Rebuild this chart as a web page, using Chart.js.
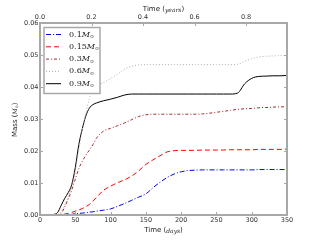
<!DOCTYPE html>
<html>
<head>
<meta charset="utf-8">
<script src="https://cdn.jsdelivr.net/npm/chart.js@4.4.1/dist/chart.umd.min.js"></script>
<style>
  html, body { margin: 0; padding: 0; background: #fff; }
  #wrap { width: 320px; height: 240px; }
</style>
</head>
<body>
<div id="wrap"><canvas id="grafico" width="320" height="240"></canvas></div>
<script>
// time in days
var days = [0, 10, 20, 25, 30, 35, 40, 45, 50, 55, 60, 65, 70, 75, 80, 90, 100, 110, 120, 130,
            140, 150, 160, 170, 180, 190, 200, 210, 220, 230, 240, 250, 260, 270, 280, 290,
            300, 310, 320, 330, 340, 350];

var masses = ['0.1', '0.15', '0.3', '0.6', '0.9'];

var m01 = [0, 0, 0, 0, 0, 0, 0.0001, 0.0002, 0.0004, 0.0005, 0.0006, 0.0007, 0.0009, 0.001, 0.0012, 0.0015,
           0.0019, 0.0027, 0.0036, 0.0046, 0.0056, 0.0066, 0.0085, 0.0102, 0.0117, 0.0128, 0.0135,
           0.0139, 0.014, 0.0141, 0.0141, 0.0141, 0.0141, 0.0141, 0.0141, 0.0141, 0.0141, 0.0142,
           0.0142, 0.0142, 0.0142, 0.0142];
var m015 = [0, 0, 0, 0, 0.0001, 0.0003, 0.0005, 0.0008, 0.0012, 0.0016, 0.002, 0.0026, 0.0033, 0.0043, 0.0055,
            0.0077, 0.009, 0.0101, 0.011, 0.0122, 0.0138, 0.0158, 0.0172, 0.0185, 0.0197, 0.0201, 0.0202,
            0.0202, 0.0202, 0.0203, 0.0203, 0.0203, 0.0203, 0.0204, 0.0204, 0.0204, 0.0204, 0.0205,
            0.0205, 0.0205, 0.0205, 0.0206];
var m03 = [0, 0, 0, 0.0001, 0.0005, 0.0025, 0.005, 0.0078, 0.0112, 0.0145, 0.0168, 0.0187, 0.0203, 0.022, 0.024,
           0.0262, 0.0271, 0.0279, 0.0288, 0.0298, 0.0308, 0.0313, 0.0315, 0.0315, 0.0315, 0.0315, 0.0315,
           0.0315, 0.0315, 0.0316, 0.0318, 0.0321, 0.0324, 0.0327, 0.033, 0.0332, 0.0333, 0.0335,
           0.0336, 0.0337, 0.0338, 0.0338];
var m06 = [0, 0, 0, 0.0002, 0.001, 0.003, 0.0058, 0.0088, 0.0135, 0.0205, 0.0268, 0.0318, 0.0365, 0.0392, 0.0403,
           0.0414, 0.0426, 0.044, 0.0456, 0.0465, 0.0469, 0.047, 0.047, 0.047, 0.047, 0.047, 0.047,
           0.047, 0.047, 0.047, 0.047, 0.047, 0.047, 0.047, 0.0471, 0.048, 0.0488, 0.0494,
           0.0496, 0.0497, 0.0498, 0.0498];
var m09 = [0, 0, 0.0002, 0.0008, 0.003, 0.0052, 0.007, 0.0095, 0.0148, 0.022, 0.027, 0.031, 0.0334, 0.0345, 0.035,
           0.0357, 0.0362, 0.0368, 0.0375, 0.0378, 0.0378, 0.0378, 0.0378, 0.0378, 0.0378, 0.0378, 0.0378,
           0.0378, 0.0378, 0.0378, 0.0378, 0.0378, 0.0378, 0.0378, 0.0381, 0.041, 0.0427, 0.0433,
           0.0434, 0.0435, 0.0435, 0.0436];

var xTicksDays = { min: 0, max: 350, step: 50 };
var xTicksYears = { min: 0, max: 350 / 365, step: 0.2 };
var yTicks = { min: 0, max: 0.06, step: 0.01 };

function pontos(serie) {
    return days.map((d, i) => ({ x: d, y: serie[i] }));
}

var estilos = [
    { cor: '#0000ff', dash: [5, 2, 1, 2] },
    { cor: '#ff0000', dash: [5, 3] },
    { cor: '#a52a2a', dash: [3, 2, 1, 2] },
    { cor: '#b0b0b0', dash: [1, 2] },
    { cor: '#000000', dash: [] }
];
var series = [m01, m015, m03, m06, m09];

var datasets = series.map((s, i) => ({
    label: masses[i],
    data: pontos(s),
    borderColor: estilos[i].cor,
    borderDash: estilos[i].dash,
    borderWidth: 1,
    pointRadius: 0,
    fill: false,
    cubicInterpolationMode: 'monotone',
    xAxisID: 'x',
    yAxisID: 'y'
}));

var cinza = '#a8a8a8';

// draw "prefix M(sun)" mixed text, returns end x
function textoMassa(ctx, x, y, prefixo, tam, fontePrefixo) {
    ctx.font = fontePrefixo;
    ctx.fillText(prefixo, x, y);
    x += ctx.measureText(prefixo).width;
    ctx.font = 'italic ' + tam + 'px "DejaVu Serif"';
    ctx.fillText('M', x, y);
    x += ctx.measureText('M').width;
    ctx.font = (tam * 0.6) + 'px "DejaVu Sans"';
    ctx.fillText('\u2299', x, y + tam * 0.3);
    x += ctx.measureText('\u2299').width;
    return x;
}

const moldura = {
    id: 'moldura',
    afterDraw(chart) {
        const { ctx, chartArea: a, scales } = chart;
        ctx.save();
        ctx.strokeStyle = cinza;
        ctx.lineWidth = 1;
        ctx.beginPath();
        scales.x.ticks.forEach(t => {
            var px = Math.round(scales.x.getPixelForValue(t.value)) + 0.5;
            ctx.moveTo(px, a.bottom); ctx.lineTo(px, a.bottom - 3);
        });
        scales.x2.ticks.forEach(t => {
            var px = Math.round(scales.x2.getPixelForValue(t.value)) + 0.5;
            ctx.moveTo(px, a.top); ctx.lineTo(px, a.top + 3);
        });
        scales.y.ticks.forEach(t => {
            var py = Math.round(scales.y.getPixelForValue(t.value)) + 0.5;
            ctx.moveTo(a.left, py); ctx.lineTo(a.left + 3, py);
            ctx.moveTo(a.right, py); ctx.lineTo(a.right - 3, py);
        });
        ctx.stroke();
        ctx.lineWidth = 2;
        ctx.strokeRect(a.left, a.top, a.right - a.left, a.bottom - a.top);

        // legend
        var lx = a.left + 4, ly = a.top + 4.5, lw = 56, lh = 66;
        ctx.fillStyle = '#fff';
        ctx.fillRect(lx, ly, lw, lh);
        ctx.strokeStyle = cinza;
        ctx.lineWidth = 1.5;
        ctx.strokeRect(lx, ly, lw, lh);
        chart.data.datasets.forEach((ds, i) => {
            var yy = ly + 7 + i * 12.3;
            ctx.strokeStyle = ds.borderColor;
            ctx.setLineDash(ds.borderDash);
            ctx.lineWidth = 1;
            ctx.beginPath();
            ctx.moveTo(lx + 2, yy); ctx.lineTo(lx + 17, yy);
            ctx.stroke();
            ctx.setLineDash([]);
            ctx.fillStyle = '#222';
            ctx.textBaseline = 'middle';
            ctx.textAlign = 'left';
            textoMassa(ctx, lx + 25, yy, ds.label, 8, '8px "DejaVu Serif"');
        });

        // axis titles
        ctx.fillStyle = '#222';
        ctx.textBaseline = 'middle';
        var cx = (a.left + a.right) / 2;
        function titulo(y, palavra, unidade) {
            ctx.font = '7px "DejaVu Sans"';
            var w1 = ctx.measureText(palavra + ' (').width;
            ctx.font = 'italic 6px "DejaVu Serif"';
            var w2 = ctx.measureText(unidade).width;
            ctx.font = '7px "DejaVu Sans"';
            var w3 = ctx.measureText(')').width;
            var x = cx - (w1 + w2 + w3) / 2;
            ctx.fillText(palavra + ' (', x, y);
            ctx.font = 'italic 6px "DejaVu Serif"';
            ctx.fillText(unidade, x + w1, y + 0.5);
            ctx.font = '7px "DejaVu Sans"';
            ctx.fillText(')', x + w1 + w2, y);
        }
        titulo(9.5, 'Time', 'years');
        titulo(230.5, 'Time', 'days');

        ctx.translate(15.5, (a.top + a.bottom) / 2);
        ctx.rotate(-Math.PI / 2);
        ctx.font = '7px "DejaVu Sans"';
        var wA = ctx.measureText('Mass (').width;
        var x = -18;
        ctx.fillText('Mass (', x, 0);
        x = textoMassa(ctx, x + wA, 0, '', 6, '6px "DejaVu Serif"');
        ctx.font = '7px "DejaVu Sans"';
        ctx.fillText(')', x, 0);
        ctx.restore();
    }
};

var fonteTick = { family: 'DejaVu Sans', size: 6.5 };

new Chart(document.getElementById('grafico'), {
    type: 'line',
    data: { datasets },
    options: {
        responsive: false,
        animation: false,
        layout: { padding: { left: 0, right: 33, top: 0, bottom: 0 } },
        plugins: { legend: { display: false }, tooltip: { enabled: false } },
        scales: {
            x: {
                type: 'linear', position: 'bottom',
                min: xTicksDays.min, max: xTicksDays.max,
                grid: { display: false, drawTicks: false }, border: { display: false },
                ticks: { stepSize: xTicksDays.step, font: fonteTick, color: '#333',
                         padding: 1, maxRotation: 0, autoSkip: false },
                afterFit: s => { s.height = 25; }
            },
            x2: {
                type: 'linear', position: 'top',
                min: xTicksYears.min, max: xTicksYears.max,
                grid: { display: false, drawTicks: false }, border: { display: false },
                ticks: { stepSize: xTicksYears.step, includeBounds: false, font: fonteTick,
                         color: '#333', padding: 2, maxRotation: 0, autoSkip: false,
                         callback: v => v.toFixed(1) },
                afterFit: s => { s.height = 23; }
            },
            y: {
                type: 'linear', position: 'left',
                min: yTicks.min, max: yTicks.max,
                grid: { display: false, drawTicks: false }, border: { display: false },
                ticks: { stepSize: yTicks.step, font: fonteTick, color: '#333',
                         padding: 1.5, callback: v => v.toFixed(2) },
                afterFit: s => { s.width = 40; }
            }
        }
    },
    plugins: [moldura]
});
</script>
</body>
</html>
